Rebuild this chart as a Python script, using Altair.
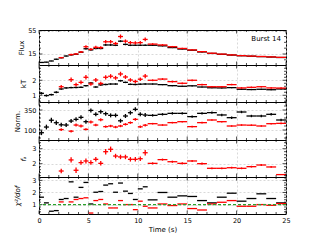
import altair as alt
import pandas as pd

N = None

# time bins (s): centres and half-widths
t_mid = [0.25, 0.75, 1.25, 1.75, 2.25, 2.75, 3.25, 3.75, 4.25, 4.75, 5.25, 5.75,
         6.25, 6.75, 7.25, 7.75, 8.25, 8.75, 9.25, 9.75, 10.25, 10.75,
         11.5, 12.5, 13.5, 14.5, 15.5, 16.5, 17.5, 18.5, 19.5, 20.5, 21.5, 22.5, 23.5, 24.5]
t_half = [0.25, 0.25, 0.25, 0.25, 0.25, 0.25, 0.25, 0.25, 0.25, 0.25, 0.25, 0.25,
          0.25, 0.25, 0.25, 0.25, 0.25, 0.25, 0.25, 0.25, 0.25, 0.25,
          0.5, 0.5, 0.5, 0.5, 0.5, 0.5, 0.5, 0.5, 0.5, 0.5, 0.5, 0.5, 0.5, 0.5]

# Flux
flux_bb = [0.5, 1.0, 3.0, 6.0, 8.5, 11.5, 13.5, 14.5, 18.0, 24.0, 22.0, 24.5, 24.5, 30.5, 30.5, 30.0,
           37.0, 31.5, 30.0, 30.0, 30.0, 30.0, 30.0, 29.0, 26.0, 23.5, 21.5, 18.5, 16.0, 14.5, 13.2,
           12.0, 11.2, 10.5, 9.8, 9.0]
flux_bb_err = [0.5, 0.5, 0.6, 0.7, 0.8, 0.9, 1.0, 1.0, 1.1, 1.3, 1.2, 1.3, 1.3, 1.5, 1.5, 1.4, 1.6,
               1.5, 1.4, 1.4, 1.4, 1.4, 1.0, 1.0, 0.9, 0.9, 0.8, 0.8, 0.7, 0.7, 0.6, 0.6, 0.6, 0.6, 0.5, 0.5]
flux_fa = [N, N, N, N, 8.8, N, 14.0, 15.0, 18.5, 27.5, 23.0, 26.5, 26.0, 36.0, 36.0, 33.0, 45.0, 37.0,
           34.5, 34.0, 34.5, 40.0, 32.0, 30.5, 27.5, 24.5, 22.0, 19.0, 16.3, 14.8, 13.4, 12.2, 11.4,
           10.7, 10.0, 9.2]
flux_fa_err = [N, N, N, N, 1.2, N, 1.5, 1.5, 1.8, 2.5, 2.2, 2.5, 2.5, 3.0, 3.0, 2.8, 3.5, 3.0, 2.8,
               2.8, 2.8, 3.2, 1.5, 1.5, 1.3, 1.2, 1.1, 1.0, 0.9, 0.8, 0.8, 0.7, 0.7, 0.7, 0.6, 0.6]

# kT
kT_bb = [1.13, 0.98, 1.04, 1.2, 1.42, 1.49, 1.51, 1.52, 1.53, 1.64, 1.82, 1.55, 1.69, 1.72, 1.75, 1.75,
         1.97, 1.86, 1.73, 1.72, 1.74, 1.75, 1.75, 1.71, 1.64, 1.6, 1.63, 1.55, 1.5, 1.49, 1.51, 1.4,
         1.38, 1.4, 1.37, 1.42]
kT_bb_err = [0.08, 0.07, 0.06, 0.06, 0.05, 0.05, 0.05, 0.05, 0.05, 0.05, 0.06, 0.05, 0.05, 0.05, 0.05,
             0.05, 0.06, 0.05, 0.05, 0.05, 0.05, 0.05, 0.04, 0.04, 0.04, 0.04, 0.04, 0.04, 0.04, 0.04,
             0.04, 0.04, 0.04, 0.04, 0.04, 0.04]
kT_fa = [N, N, N, N, 1.57, N, 2.04, 1.71, 1.86, 2.2, 1.75, 2.02, 1.79, 2.2, 2.27, 2.16, 2.42, 2.22,
         2.02, 1.92, 2.07, 2.28, 2.0, 2.08, 1.91, 1.8, 2.0, 1.71, 1.57, 1.57, 1.71, 1.49, 1.53, 1.57,
         1.49, 1.48]
kT_fa_err = [N, N, N, N, 0.12, N, 0.15, 0.12, 0.12, 0.15, 0.12, 0.13, 0.12, 0.14, 0.14, 0.13, 0.15,
             0.13, 0.12, 0.12, 0.12, 0.14, 0.06, 0.06, 0.06, 0.06, 0.06, 0.06, 0.05, 0.05, 0.05, 0.05,
             0.05, 0.05, 0.05, 0.05]

# Norm.
norm_bb = [66, 137, 222, 191, 165, 162, 212, 233, 258, 204, 345, 296, 329, 304, 283, 283, 215, 275,
           316, 358, 296, 287, 283, 296, 308, 308, 267, 308, 317, 288, 254, 325, 275, 275, 296, 225]
norm_bb_err = [30, 30, 30, 28, 25, 25, 25, 25, 25, 25, 25, 25, 25, 25, 25, 25, 25, 25, 25, 25, 25, 25,
               15, 15, 15, 15, 15, 15, 15, 15, 15, 15, 15, 15, 15, 15]
norm_fa = [N, N, N, N, 105, N, 85, 162, 150, 108, 200, 162, 228, 142, 150, 137, 150, 171, 192, 233,
           140, 160, 179, 162, 192, 204, 142, 192, 225, 204, 150, 162, 160, 150, 179, 183]
norm_fa_err = [N, N, N, N, 18, N, 15, 18, 18, 15, 18, 15, 18, 15, 15, 15, 15, 15, 15, 18, 15, 15,
               10, 10, 10, 10, 10, 10, 10, 10, 10, 10, 10, 10, 10, 10]

# f_a
fa_val = [N, N, N, N, 1.51, N, 2.25, 1.56, 2.07, 2.18, 2.07, 2.29, 2.02, 2.8, 2.96, 2.51, 2.45, 2.45,
          2.29, 2.29, 2.33, 2.73, 2.02, 2.27, 2.13, 2.02, 2.18, 2.0, 1.69, 1.69, 1.73, 1.69, 1.8, 1.91,
          1.78, 1.27]
fa_err = [N, N, N, N, 0.15, N, 0.18, 0.18, 0.15, 0.17, 0.15, 0.15, 0.15, 0.18, 0.18, 0.15, 0.15, 0.15,
          0.15, 0.15, 0.15, 0.18, 0.07, 0.07, 0.07, 0.07, 0.07, 0.07, 0.06, 0.06, 0.06, 0.06, 0.06, 0.06,
          0.06, 0.02]

# chi2/dof
chi_bb = [1.61, 1.14, 0.45, 0.5, 1.42, 1.5, 2.88, 1.61, 2.42, 2.83, 1.05, 2.02, 2.08, 2.61, 2.72, 2.02,
          2.78, 2.11, 1.92, 1.42, 2.3, 2.47, 1.39, 2.0, 1.61, 1.72, 1.67, 1.33, 1.14, 1.61, 1.94, 1.28,
          1.5, 1.89, 1.5, 1.14]
chi_fa = [N, N, N, N, 1.22, N, 1.22, 1.42, 1.5, 1.56, 0.3, 1.33, 1.42, 1.05, 0.72, 0.72, 1.33, 1.0,
          1.0, 0.58, 1.28, 0.86, 0.72, 1.05, 0.92, 1.05, 0.67, 0.55, 1.05, 1.19, 1.33, 0.86, 0.86, 1.0,
          0.94, 1.08]
chi_ref = [1.0]

# ticks
x_major = [0, 5, 10, 15, 20, 25]
x_minor = [1, 2, 3, 4, 6, 7, 8, 9, 11, 12, 13, 14, 16, 17, 18, 19, 21, 22, 23, 24]
flux_ticks, flux_minor = [15, 55], [5, 25, 35, 45]
kT_ticks, kT_minor = [1, 2], [0.6, 0.8, 1.2, 1.4, 1.6, 1.8, 2.2, 2.4, 2.6, 2.8]
norm_ticks, norm_minor = [100, 350], [0, 50, 150, 200, 250, 300, 400]
fa_ticks, fa_minor = [2, 3], [1.2, 1.4, 1.6, 1.8, 2.2, 2.4, 2.6, 2.8, 3.2, 3.4]
chi_ticks, chi_minor = [1, 2, 3], [0.4, 0.6, 0.8, 1.2, 1.4, 1.6, 1.8, 2.2, 2.4, 2.6, 2.8, 3.2]

burst_label = ["Burst 14"]

W = 247
BLACK = "#000000"
RED = "#ff0000"


def cross_df(vals, errs):
    rows = []
    for tm, th, v, e in zip(t_mid, t_half, vals, errs):
        if v is None:
            continue
        rows.append(dict(t=tm, t0=tm - th, t1=tm + th, v=v, v0=v - e, v1=v + e))
    return pd.DataFrame(rows)


def panel(title, dom, major, minor, h, black, black_err, red, red_err, tpad,
          last=False, vertical=True, italic=False, extra=()):
    xs = alt.Scale(domain=[0, 25], nice=False, zero=False)
    ys = alt.Scale(domain=dom, nice=False, zero=False)
    if last:
        xax = alt.Axis(values=x_major, grid=True, ticks=False, domain=False, labels=True,
                       title="Time (s)", labelFlush=False, labelPadding=3, titlePadding=2,
                       format="d")
    else:
        xax = alt.Axis(values=x_major, grid=True, ticks=False, domain=False, labels=False,
                       title=None)
    yax = alt.Axis(values=major, grid=True, ticks=False, domain=False, title=title,
                   titlePadding=tpad, labelPadding=3, labelFlush=False,
                   titleFontStyle="italic" if italic else "normal")

    def X(f):
        return alt.X(f, type="quantitative", scale=xs, axis=xax)

    def Y(f):
        return alt.Y(f, type="quantitative", scale=ys, axis=yax)

    layers = []
    for vals, errs, col in ((black, black_err, BLACK), (red, red_err, RED)):
        df = cross_df(vals, errs)
        base = alt.Chart(df)
        layers.append(base.mark_rule(color=col, strokeWidth=1.3).encode(x=X("t0"), x2="t1", y=Y("v")))
        if vertical:
            layers.append(base.mark_rule(color=col, strokeWidth=1.3).encode(x=X("t"), y=Y("v0"), y2="v1"))

    for vals, L in ((x_major, 3.5), (x_minor, 2)):
        d = pd.DataFrame({"x": vals})
        layers.append(alt.Chart(d).mark_rule(color=BLACK, strokeWidth=0.7).encode(
            x=X("x"), y=alt.value(h), y2=alt.value(h - L)))
        layers.append(alt.Chart(d).mark_rule(color=BLACK, strokeWidth=0.7).encode(
            x=X("x"), y=alt.value(0), y2=alt.value(L)))
    for vals, L in ((major, 3.5), (minor, 2)):
        d = pd.DataFrame({"y": vals})
        layers.append(alt.Chart(d).mark_rule(color=BLACK, strokeWidth=0.7).encode(
            y=Y("y"), x=alt.value(0), x2=alt.value(L)))
        layers.append(alt.Chart(d).mark_rule(color=BLACK, strokeWidth=0.7).encode(
            y=Y("y"), x=alt.value(W), x2=alt.value(W - L)))

    for kind in extra:
        if kind == "label":
            layers.append(alt.Chart(pd.DataFrame({"label": burst_label})).mark_text(
                align="right", baseline="middle", fontSize=7, font="DejaVu Sans", color=BLACK
            ).encode(text="label:N", x=alt.value(242), y=alt.value(9)))
        if kind == "ref":
            layers.append(alt.Chart(pd.DataFrame({"y": chi_ref})).mark_rule(
                color="#2ca02c", strokeDash=[3, 2], strokeWidth=1.3).encode(y=Y("y")))

    return alt.layer(*layers).properties(width=W, height=h)


p1 = panel("Flux", [-3.9, 56.2], flux_ticks, flux_minor, 35, flux_bb, flux_bb_err, flux_fa,
           flux_fa_err, 3, extra=("label",))
p2 = panel("kT", [0.55, 3.02], kT_ticks, kT_minor, 37, kT_bb, kT_bb_err, kT_fa, kT_fa_err, 5.5)
p3 = panel("Norm.", [-25, 450], norm_ticks, norm_minor, 38, norm_bb, norm_bb_err, norm_fa,
           norm_fa_err, 3)
p4 = panel("fₐ", [1.11, 3.58], fa_ticks, fa_minor, 37, [N] * 36, [N] * 36, fa_val, fa_err, 5.5,
           italic=True)
p5 = panel("χ²/dof", [0.22, 3.28], chi_ticks, chi_minor, 37, chi_bb, [0] * 36, chi_fa, [0] * 36, 11,
           last=True, vertical=False, italic=True, extra=("ref",))

chart = alt.vconcat(p1, p2, p3, p4, p5, spacing=0, bounds="flush").properties(
    padding={"left": 5, "top": 19, "right": 5, "bottom": 5}
).configure_view(stroke=BLACK, strokeWidth=1).configure_axis(
    labelFont="DejaVu Sans", labelFontSize=6.5, labelColor=BLACK,
    titleFont="DejaVu Sans", titleFontSize=7, titleFontWeight="normal", titleColor=BLACK,
    gridColor="#c8c8c8", gridDash=[2, 2], gridWidth=0.7
)

chart.save("out.html", embed_options={"renderer": "svg", "actions": False})
